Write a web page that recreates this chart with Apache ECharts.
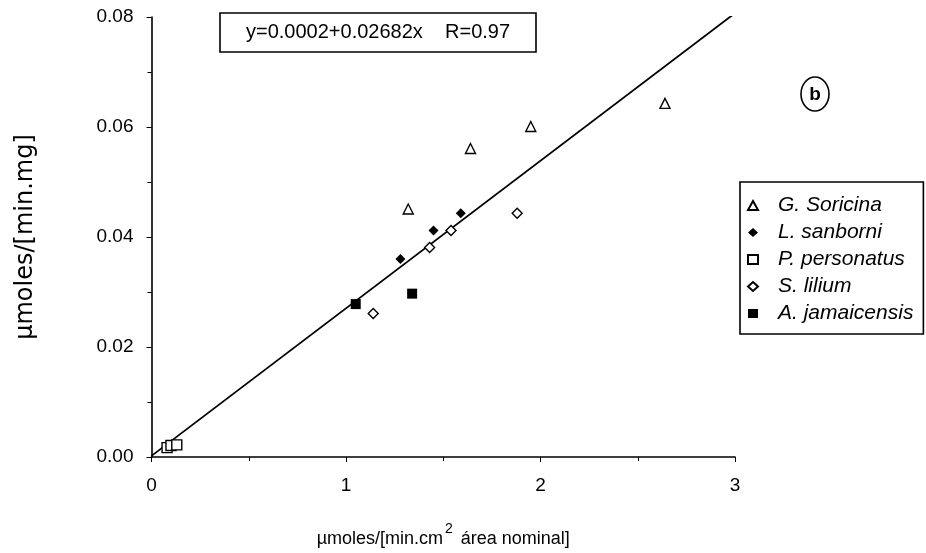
<!DOCTYPE html>
<html><head><meta charset="utf-8">
<script src="https://cdn.jsdelivr.net/npm/echarts@6/dist/echarts.min.js"></script>
<style>html,body{margin:0;padding:0;background:#fff}#c{width:926px;height:553px}</style>
</head><body><div id="c"></div>
<script>
var seriesNames = ['G. Soricina', 'L. sanborni', 'P. personatus', 'S. lilium', 'A. jamaicensis'];
var soricina = [[1.32, 0.0451], [1.64, 0.0561], [1.95, 0.0601], [2.64, 0.0643]];
var sanborni = [[1.28, 0.0360], [1.45, 0.0412], [1.59, 0.0443]];
var personatus = [[0.08, 0.0017], [0.10, 0.0021], [0.13, 0.0022]];
var lilium = [[1.14, 0.0261], [1.43, 0.0381], [1.54, 0.0412], [1.88, 0.0443]];
var jamaicensis = [[1.05, 0.0278], [1.34, 0.0297]];
var fitLine = [[0, 0.0002], [3, 0.0807]];
var equationText = 'y=0.0002+0.02682x    R=0.97';
var panelLabel = 'b';
var xTicks = [0, 1, 2, 3];
var yTicks = [0.00, 0.02, 0.04, 0.06, 0.08];

var F = '"Liberation Sans", Arial, sans-serif';
var chart = echarts.init(document.getElementById('c'));
function open(sym, size) {
  return { type: 'scatter', symbol: sym, symbolSize: size,
    itemStyle: { color: '#fff', borderColor: '#000', borderWidth: 1.4, opacity: 1 } };
}
function filled(sym, size) {
  return { type: 'scatter', symbol: sym, symbolSize: size,
    itemStyle: { color: '#000', borderColor: '#000', borderWidth: 0, opacity: 1 } };
}
var s = [
  Object.assign(open('triangle', 10), { name: seriesNames[0], data: soricina }),
  Object.assign(filled('diamond', 10), { name: seriesNames[1], data: sanborni }),
  Object.assign(open('rect', 10), { name: seriesNames[2], data: personatus }),
  Object.assign(open('diamond', 10), { name: seriesNames[3], data: lilium }),
  Object.assign(filled('rect', 10), { name: seriesNames[4], data: jamaicensis }),
  { type: 'line', name: 'fit', data: fitLine, symbol: 'none', silent: true,
    lineStyle: { color: '#000', width: 1.8 }, z: 1 }
];
chart.setOption({
  animation: false,
  backgroundColor: '#fff',
  textStyle: { fontFamily: F },
  grid: { left: 151.5, right: 191, top: 17, bottom: 93, containLabel: false },
  title: {
    text: equationText, left: 220, top: 13,
    borderColor: '#000', borderWidth: 1.6,
    padding: [9, 26, 9, 26],
    textStyle: { fontFamily: F, fontSize: 20, fontWeight: 'normal', color: '#000', lineHeight: 21 }
  },
  legend: {
    data: seriesNames, orient: 'vertical', left: 740, top: 182,
    padding: [13, 10, 10, 7], itemGap: 6, itemWidth: 10, itemHeight: 9,
    borderColor: '#000', borderWidth: 1.6,
    formatter: function (n) { return '{t|' + n + '}'; },
    textStyle: { fontFamily: F, fontSize: 21, fontStyle: 'italic', color: '#000', lineHeight: 21,
      rich: { t: { fontFamily: F, fontSize: 21, fontStyle: 'italic', color: '#000', lineHeight: 21, padding: [0, 0, 0, 15] } } }
  },
  xAxis: {
    type: 'value', min: 0, max: 3, interval: 1,
    axisLine: { lineStyle: { color: '#000', width: 1.6 } },
    axisTick: { show: true, inside: false, length: 5, lineStyle: { color: '#000' } },
    minorTick: { show: true, splitNumber: 2, length: 4, lineStyle: { color: '#000' } },
    splitLine: { show: false },
    axisLabel: { color: '#000', fontSize: 19, margin: 19, fontFamily: F,
      formatter: function (v) { return xTicks.indexOf(v) >= 0 ? String(v) : ''; } },
    name: '{a|µmoles/[min.cm}{s|2}{a| área nominal]}',
    nameLocation: 'middle', nameGap: 65,
    nameTextStyle: { rich: {
      a: { fontSize: 18, fontFamily: F, color: '#000', verticalAlign: 'bottom' },
      s: { fontSize: 14, fontFamily: F, color: '#000', verticalAlign: 'top', padding: [0, 3, 12, 2] }
    } }
  },
  yAxis: {
    type: 'value', min: 0, max: 0.08, interval: 0.02,
    axisLine: { lineStyle: { color: '#000', width: 1.6 } },
    axisTick: { show: true, inside: false, length: 5, lineStyle: { color: '#000' } },
    minorTick: { show: true, splitNumber: 2, length: 4, lineStyle: { color: '#000' } },
    splitLine: { show: false },
    axisLabel: { color: '#000', fontSize: 19, margin: 18, fontFamily: F,
      formatter: function (v) { return v.toFixed(2); } },
    name: 'µmoles/[min.mg]', nameLocation: 'middle', nameGap: 114, nameRotate: 90,
    nameTextStyle: { fontSize: 24, fontFamily: '"DejaVu Sans", sans-serif', color: '#000' }
  },
  graphic: [
    { type: 'ellipse', shape: { cx: 815, cy: 94, rx: 14, ry: 17 },
      style: { fill: '#fff', stroke: '#000', lineWidth: 1.6 } },
    { type: 'text', x: 815, y: 95,
      style: { text: panelLabel, fontSize: 19, fontWeight: 'bold', fontFamily: F, fill: '#000', align: 'center', verticalAlign: 'middle' } }
  ],
  series: s
});
</script></body></html>
